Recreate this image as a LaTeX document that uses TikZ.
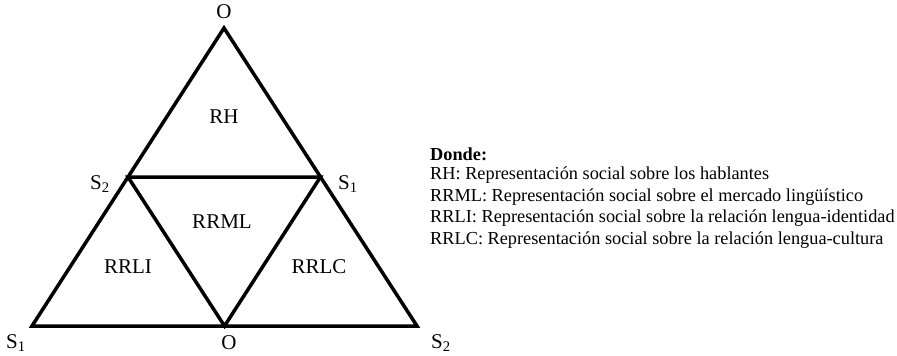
\documentclass[tikz,border=0pt]{standalone}
\usepackage{fontspec}
\setmainfont{Liberation Serif}
\usetikzlibrary{calc}
\begin{document}
\begin{tikzpicture}[x=1pt,y=-1pt,
  edge/.style={line width=3.5pt,line join=miter},
  lbl/.style={font=\fontsize{21}{24}\selectfont,inner sep=0pt},
  leg/.style={font=\fontsize{18.3}{21}\selectfont,inner sep=0pt,anchor=west}]
\useasboundingbox (0,0) rectangle (897,356);
\coordinate (T) at (224,28);
\coordinate (BL) at (32,326);
\coordinate (BR) at (417,326);
\coordinate (ML) at ($ (T)!0.5!(BL) $);
\coordinate (MR) at ($ (T)!0.5!(BR) $);
\coordinate (MB) at ($ (BL)!0.5!(BR) $);
\draw[edge] (T) -- (BL) -- (BR) -- cycle;
\draw[edge] (ML) -- (MR) -- (MB) -- cycle;
% vertex labels
\node[lbl] (oTop) at (224,12) {O};
\node[lbl] (s2L) at (100,184) {S\textsubscript{2}};
\node[lbl] (s1R) at (348,184) {S\textsubscript{1}};
\node[lbl] (s1B) at (16,343) {S\textsubscript{1}};
\node[lbl] (oB) at (229,343) {O};
\node[lbl] (s2B) at (441,343) {S\textsubscript{2}};
% region labels
\node[lbl] (rh) at (224,117) {RH};
\node[lbl] (rrml) at (222,222) {RRML};
\node[lbl] (rrli) at (128,267) {RRLI};
\node[lbl] (rrlc) at (319,267) {RRLC};
% legend
\node[leg] (d0) at (430,154) {\textbf{Donde:}};
\node[leg] (d1) at (430,175) {RH: Representación social sobre los hablantes};
\node[leg] (d2) at (430,197) {RRML: Representación social sobre el mercado lingüístico};
\node[leg] (d3) at (430,218) {RRLI: Representación social sobre la relación lengua-identidad};
\node[leg] (d4) at (430,240) {RRLC: Representación social sobre la relación lengua-cultura};
\end{tikzpicture}
\end{document}
